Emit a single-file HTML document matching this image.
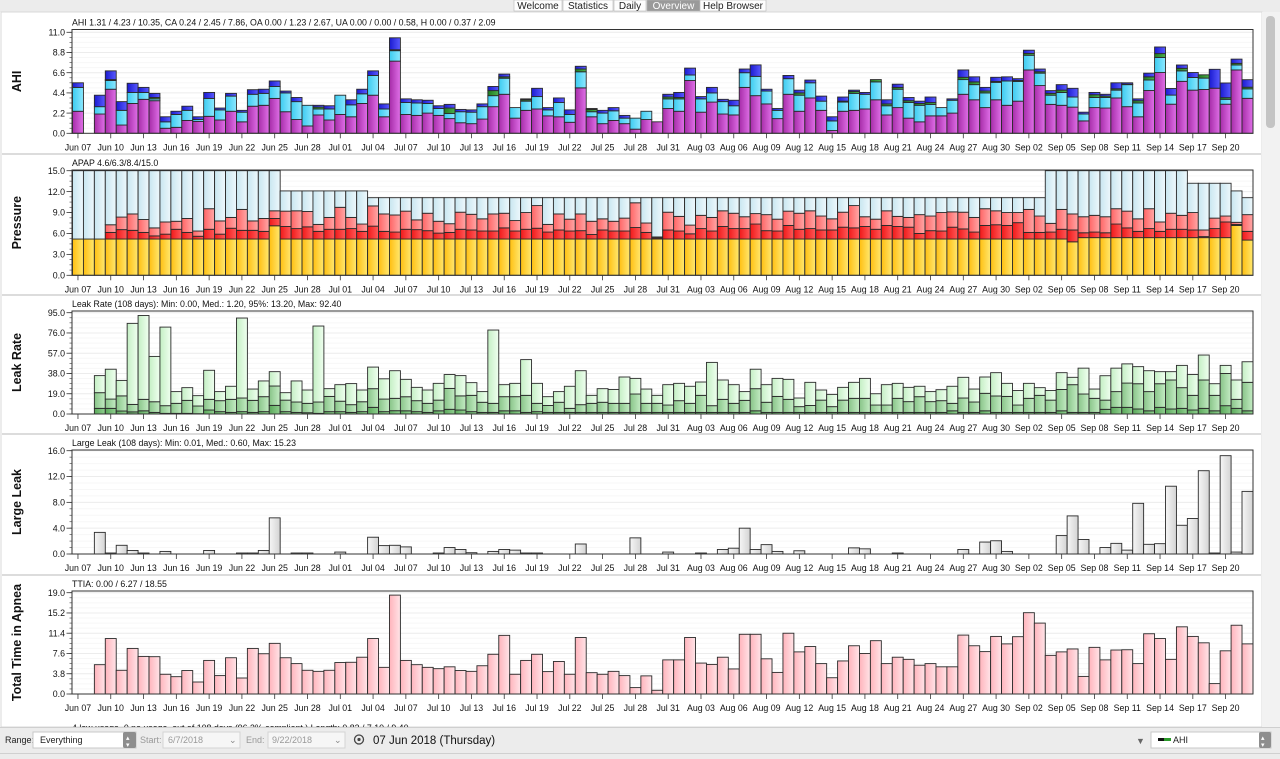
<!DOCTYPE html>
<html><head><meta charset="utf-8">
<style>
html,body{margin:0;padding:0;background:#fff;width:1280px;height:759px;overflow:hidden;font-family:"Liberation Sans",sans-serif}
#root{position:relative;width:1280px;height:759px}
svg text{font-family:"Liberation Sans",sans-serif}
</style></head>
<body>
<div id="root">
<svg id="chart" width="1280" height="759" viewBox="0 0 1280 759" xmlns="http://www.w3.org/2000/svg">
<defs>
<linearGradient id="gCA" x1="0" x2="1"><stop offset="0" stop-color="#a62ca8"/><stop offset="1" stop-color="#e070e8"/></linearGradient>
<linearGradient id="gOA" x1="0" x2="1"><stop offset="0" stop-color="#3ccbf0"/><stop offset="1" stop-color="#8ce8ff"/></linearGradient>
<linearGradient id="gUA" x1="0" x2="1"><stop offset="0" stop-color="#1f7a1f"/><stop offset="1" stop-color="#4cb04c"/></linearGradient>
<linearGradient id="gH" x1="0" x2="1"><stop offset="0" stop-color="#1a1ad0"/><stop offset="1" stop-color="#5a5aff"/></linearGradient>
<linearGradient id="gMin" x1="0" x2="1"><stop offset="0" stop-color="#ffbf10"/><stop offset="1" stop-color="#ffe870"/></linearGradient>
<linearGradient id="gMed" x1="0" x2="1"><stop offset="0" stop-color="#f01818"/><stop offset="1" stop-color="#ff5a5a"/></linearGradient>
<linearGradient id="gP95" x1="0" x2="1"><stop offset="0" stop-color="#ff6464"/><stop offset="1" stop-color="#ffa8a8"/></linearGradient>
<linearGradient id="gMax" x1="0" x2="1"><stop offset="0" stop-color="#c8e6f0"/><stop offset="1" stop-color="#eef8fc"/></linearGradient>
<linearGradient id="gL1" x1="0" x2="1"><stop offset="0" stop-color="#5aa85a"/><stop offset="1" stop-color="#90d090"/></linearGradient>
<linearGradient id="gL2" x1="0" x2="1"><stop offset="0" stop-color="#88c488"/><stop offset="1" stop-color="#c4ecc4"/></linearGradient>
<linearGradient id="gL3" x1="0" x2="1"><stop offset="0" stop-color="#c4efc4"/><stop offset="1" stop-color="#f0fff0"/></linearGradient>
<linearGradient id="gLL" x1="0" x2="1"><stop offset="0" stop-color="#f6f6f6"/><stop offset="1" stop-color="#d4d4d4"/></linearGradient>
<linearGradient id="gTT" x1="0" x2="1"><stop offset="0" stop-color="#ffb4bc"/><stop offset="1" stop-color="#ffe4e8"/></linearGradient>
</defs>
</svg>
</div>
<script>
const ca = [2.4,0,2.1,4.8,0.9,3.25,3.7,3.55,0.55,0.65,
1.4,1.3,1.85,1.45,2.4,1.25,2.95,3.05,3.8,2.35,
1.5,0.8,2.0,1.45,2.05,1.8,3.25,4.15,1.8,7.86,
2.05,1.95,2.2,1.95,1.6,1.15,1.05,1.55,2.9,4.25,
1.65,2.5,2.65,1.9,1.8,1.2,4.95,1.8,1.05,1.4,
1.05,0.45,1.5,1.25,2.7,2.4,5.75,2.3,3.4,2.1,
2.0,5.0,4.1,3.2,1.6,4.25,2.4,3.85,2.5,0.3,
2.4,2.5,2.65,3.65,2.0,2.8,1.65,1.25,1.9,1.9,
2.2,4.25,3.65,2.8,3.65,3.05,3.5,6.9,5.2,3.15,
3.05,2.85,1.35,2.8,2.75,3.85,2.9,1.8,4.66,6.62,
3.17,5.66,4.7,4.77,4.91,3.17,6.9,3.81];
const oa = [2.6,0,0.8,0.95,1.6,1.2,0.75,0.2,0.7,1.4,
1.1,0.2,1.95,1.1,1.65,1.05,1.3,1.3,1.3,2.05,
1.95,2.25,0.65,1.2,2.1,1.3,1.05,2.15,0.85,1.14,
1.3,1.35,1.05,0.75,0.55,1.2,1.25,1.35,1.2,1.75,
1.15,1.0,1.35,0.65,1.55,0.85,1.75,0.55,1.15,1.05,
0.6,1.2,0.9,0,1.05,1.35,0.6,1.45,1.0,1.35,
1.0,1.6,2.1,1.4,0.9,1.7,1.75,1.65,1.0,1.05,
1.0,1.85,1.6,1.95,1.0,2.0,1.7,1.8,1.25,0.9,
1.4,1.6,1.65,1.6,1.9,2.65,2.15,1.6,1.35,1.0,
1.4,1.1,0.75,1.1,1.15,0.85,2.4,1.5,1.14,1.64,
0.99,1.14,1.38,1.24,0,0.53,0.54,1.03];
const ua = [0,0,0,0.1,0,0,0,0.15,0,0,
0,0,0,0,0,0,0,0,0,0,
0,0,0.2,0,0,0,0,0,0,0.1,
0,0,0,0,0.6,0,0,0,0.55,0.15,
0,0.15,0,0,0,0,0.3,0.25,0,0,
0,0,0,0,0.2,0.15,0,0,0,0,
0,0,0,0,0,0,0.25,0,0,0,
0.1,0.2,0,0.25,0.2,0.2,0.2,0.2,0.2,0,
0,0.25,0.3,0.2,0.1,0,0.1,0.2,0.15,0.2,
0.25,0,0,0.3,0.15,0.15,0.05,0.25,0.35,0.42,
0,0.28,0,0.36,0,0.18,0.18,0.18];
const hyp = [0.5,0,1.25,0.95,0.95,1.0,0.55,0.45,0.55,0.35,
0.45,0.3,0.65,0.2,0.3,0.2,0.5,0.45,0.6,0.2,
0.45,0,0.2,0.35,0,0.55,0.5,0.5,0.55,1.3,
0.4,0.35,0.35,0.3,0.4,0.25,0.25,0.3,0.45,0.3,
0,0.1,0.9,0.25,0.5,0.5,0.3,0.1,0.3,0.35,
0.3,0,0,0,0.3,0.55,0.75,0.25,0.6,0.25,
0.6,0.4,1.25,0.2,0.2,0.35,0.3,0.3,0.55,0.45,
0.45,0.15,0.2,0,0.45,0.35,0.35,0.25,0.6,0,
0.15,0.8,0.55,0.4,0.45,0.45,0.2,0.35,0.3,0.3,
0.6,0.95,0.2,0.25,0.2,0.65,0.15,0.2,0.4,0.72,
0.72,0.36,0.54,0,2.06,1.6,0.46,0.82];
const pMin = [5.2,5.2,5.2,5.2,5.2,5.2,5.2,5.2,5.2,5.2,
5.2,5.2,5.2,5.2,5.2,5.2,5.2,5.2,7.1,5.2,
5.2,5.2,5.2,5.2,5.2,5.2,5.2,5.2,5.2,5.2,
5.2,5.2,5.2,5.2,5.2,5.2,5.2,5.2,5.2,5.2,
5.2,5.2,5.2,5.2,5.2,5.2,5.2,5.2,5.2,5.2,
5.2,5.2,5.2,5.2,5.2,5.2,5.2,5.2,5.2,5.2,
5.2,5.2,5.2,5.2,5.2,5.2,5.2,5.2,5.2,5.2,
5.2,5.2,5.2,5.2,5.2,5.2,5.2,5.2,5.2,5.2,
5.2,5.2,5.2,5.2,5.2,5.2,5.2,5.2,5.2,5.2,
5.2,4.8,5.4,5.4,5.4,5.4,5.4,5.4,5.4,5.4,
5.4,5.4,5.4,5.4,5.4,5.4,7.15,5.05];
const pMed = [5.2,5.2,5.2,6.15,6.55,6.45,6.15,5.65,5.9,6.6,
6.15,5.6,6.6,5.9,6.75,6.45,6.45,6.3,8.15,7.0,
6.7,6.95,6.3,6.6,6.6,6.7,6.3,7.05,6.3,6.2,
6.6,6.55,6.4,6.05,6.15,6.6,6.5,6.35,6.35,6.8,
6.35,6.6,6.75,6.2,6.5,6.35,6.4,5.85,6.5,6.35,
6.35,6.85,6.15,5.35,6.5,6.35,5.95,6.7,6.35,7.0,
6.7,6.7,7.35,6.4,6.35,7.15,6.6,6.7,6.5,6.5,
6.9,6.8,7.0,6.6,7.15,7.0,6.9,6.0,6.4,6.35,
6.9,6.65,6.2,7.15,7.25,7.15,7.55,6.15,6.15,6.2,
6.6,6.5,6.1,6.2,6.1,7.35,6.8,6.3,6.7,6.3,
6.6,6.6,6.5,5.55,6.7,7.65,7.3,6.3];
const pP95 = [5.2,5.2,5.2,7.25,8.35,8.8,8.0,6.8,7.65,7.75,
8.15,6.35,9.55,7.8,8.3,9.45,7.8,8.15,9.25,9.2,
9.25,9.15,7.3,8.3,9.75,8.3,7.35,9.95,8.8,8.65,
9.2,7.95,8.9,7.75,7.4,9.05,8.75,8.1,8.8,8.9,
7.85,9.0,10.0,7.3,8.8,8.05,8.8,7.75,8.1,7.75,
8.2,10.4,7.5,5.5,9.05,8.45,7.2,8.6,8.3,9.25,
8.9,8.4,8.85,8.7,8.05,9.2,8.9,9.25,8.5,8.1,
9.05,10.0,8.4,8.05,9.25,8.45,8.3,8.7,8.5,9.0,
9.1,9.05,8.3,9.55,9.25,9.0,9.0,9.45,8.5,7.45,
9.45,8.8,8.4,8.6,8.4,9.55,9.2,8.1,9.55,7.65,
8.9,8.6,9.0,6.5,8.2,8.5,7.6,8.7];
const pMax = [15,15,15,15,15,15,15,15,15,15,
15,15,15,15,15,15,15,15,15,12.1,
12.1,12.1,12.1,12.1,12.1,12.1,12.1,11.13,11.13,11.13,
11.13,11.13,11.13,11.13,11.13,11.13,11.13,11.13,11.13,11.13,
11.13,11.13,11.13,11.13,11.13,11.13,11.13,11.13,11.13,11.13,
11.13,11.13,11.13,11.13,11.13,11.13,11.13,11.13,11.13,11.13,
11.13,11.13,11.13,11.13,11.13,11.13,11.13,11.13,11.13,11.13,
11.13,11.13,11.13,11.13,11.13,11.13,11.13,11.13,11.13,11.13,
11.13,11.13,11.13,11.13,11.13,11.13,11.13,11.13,11.13,15,
15,15,15,15,15,15,15,15,15,15,
15,15,13.2,13.2,13.2,13.2,12.1,11.13];
const leakLow = [0,0,5.3,5.3,2.8,2,3,1.5,0.6,0.6,
0.6,0.3,3.75,2.2,1.5,2.2,1.5,2.2,8.1,2.2,
1.5,1.2,0.6,2.2,2.2,1.5,2.2,6.25,2.2,3.1,
3,2.2,1.5,3,4.4,3.75,2.2,1.5,1.5,3,
3,1.5,2.2,1.5,1.5,1.5,1.5,1.5,1.5,1.5,
1.5,1.5,1.5,1.5,1.5,1.5,1.5,1.5,1.5,1.5,
1.5,1.5,3,1.5,1.5,1.5,1.5,1.5,1.5,1.5,
1.5,1.5,1.5,1.5,1.5,1.5,1.5,1.5,1.5,1.5,
3,1.5,1.5,3,1.5,1.5,1.5,1.5,1.5,1.5,
3,1.5,1.5,1.5,4.4,6.25,6.25,4.7,3,6.25,
4.7,5.3,3.75,5.3,3,7.8,5.3,3];
const leakMed = [0,0,20,14,17,9,13.75,11.5,7.8,10,
12.8,7.5,13.75,12.5,13.75,15,12.8,16.25,26.25,13,
11.25,10,11.25,16.5,12,8.75,11.5,23.75,14,14.7,
16.2,12.5,10,13,24,17,17.5,11,10,16.25,
16.25,17.5,10,8,11,5.3,8.75,10,11,10,
10,18.75,10,10,8.4,12.5,10,17.5,7.8,13.75,
10,12.8,23.75,11,16.5,13.75,6.9,8,13,6.9,
13,14.7,14.7,8.4,8.4,14.7,11.6,16.25,11.6,12.5,
10,15,11.25,19.4,16.9,16.5,8.4,14.7,17.5,13,
23,27.5,18.75,14.7,13,21,29,28.4,21,28.4,
31.9,24.7,17.5,31.9,17.5,38,13.75,29.7];
const leakHigh = [0,0,36,42,31.5,85,92.4,54,81.5,21,
24.7,17.2,41,21,26,90,23.4,31,39.7,20,
31,22.5,82.5,23.75,27.5,28.5,22.5,44,33,40.6,
32.5,25,22.5,28.75,37,36,29.4,21,78.75,27.5,
28.75,51,28.75,16.25,21,26,40.6,17.5,23.75,23,
34.7,33.4,23.4,17.5,27.5,28.75,26,30,48.4,31.9,
27.5,21,42,27.5,33.4,32.5,15,29.7,22.5,18.4,
25,29.7,33.4,19,27.5,28.75,25,26,21,22.8,
26,34.4,23.4,34.7,38.75,28.75,22,28.75,24.7,22,
38.75,34.4,43,23.4,35.9,43,47,44.4,40.6,39.7,
39.7,45.6,37,55.3,28.4,45.6,31.9,49];
const largeLeak = [0,0,3.35,0.1,1.35,0.55,0.1,0,0.4,0,
0,0,0.55,0,0,0.1,0.1,0.55,5.6,0,
0.1,0.1,0,0,0.3,0,0,2.6,1.3,1.35,
1.1,0,0,0.1,1.0,0.7,0.2,0,0.4,0.7,
0.6,0.1,0.1,0,0,0,1.55,0,0,0,
0,2.5,0,0,0.3,0,0,0.1,0,0.7,
0.9,4.0,0.7,1.45,0.4,0,0.5,0,0,0,
0,0.95,0.8,0,0,0.1,0,0,0,0,
0,0.7,0,1.85,2.05,0.4,0,0,0,0,
2.85,5.9,2.25,0,1.0,1.65,0.6,7.85,1.5,1.6,
10.5,4.45,5.5,12.9,0.1,15.23,0.3,9.7];
const ttia = [0,0,5.5,10.4,4.45,8.55,7.05,7.0,3.7,3.25,
4.4,2.25,6.3,3.45,6.8,3.0,8.55,7.55,9.5,6.8,
5.7,4.45,4.25,4.45,5.9,5.95,6.9,10.4,5.0,18.55,
6.3,5.5,5.0,4.75,5.1,4.4,4.25,5.3,7.45,11.0,
3.7,6.3,7.45,4.2,6.1,3.7,10.6,4.0,3.7,4.25,
3.45,1.2,3.4,0.7,6.4,6.4,10.6,5.8,5.55,6.9,
4.7,11.2,11.2,6.6,4.05,11.4,7.9,8.9,5.7,3.05,
6.2,9.05,7.6,10.0,5.7,6.9,6.5,5.4,5.7,5.1,
5.1,11.05,9.05,7.95,10.8,9.4,10.75,15.25,13.3,7.25,
7.9,8.45,3.3,8.75,6.4,8.25,8.3,5.7,11.3,10.4,
6.5,12.6,10.8,9.6,1.95,8.1,12.9,9.4];
const ahiTicks = ["0.0","2.2","4.4","6.6","8.8","11.0"];
const pressureTicks = ["0.0","3.0","6.0","9.0","12.0","15.0"];
const leakTicks = ["0.0","19.0","38.0","57.0","76.0","95.0"];
const largeTicks = ["0.0","4.0","8.0","12.0","16.0"];
const ttiaTicks = ["0.0","3.8","7.6","11.4","15.2","19.0"];
const monthNames = ["Jun","Jul","Aug","Sep"];
const monthLens = [30,31,31,30];

const NS = "http://www.w3.org/2000/svg";
const svg = document.getElementById('chart');
function mk(tag, attrs, parent){
  const e = document.createElementNS(NS, tag);
  for (const k in attrs) e.setAttribute(k, attrs[k]);
  (parent||svg).appendChild(e); return e;
}
const N = ca.length;
const X0 = 72.5, DW = 10.93, XR = 1253;
const FS = 8.8;
function xL(i){ return X0 + i*DW; }
function dayLabel(i){
  let m=0, d=7+i;
  while (d>monthLens[m]) { d-=monthLens[m]; m++; }
  return monthNames[m]+" "+(d<10?"0"+d:d);
}

const tabBar = mk('rect',{x:0,y:0,width:1280,height:12,fill:'#ececec'});


const tabs = [["Welcome",514,48],["Statistics",563,50],["Daily",614,32],["Overview",647,53],["Help Browser",700,66]];
tabs.forEach(t=>{
  const g = mk('g',{});
  
  
  const sel = t[0]==="Overview";
  mk('rect',{x:t[1],y:0,width:t[2],height:11,fill:sel?'#9a9a9a':'#fdfdfd',stroke:'#b8b8b8','stroke-width':0.6},g);
  const tx = mk('text',{x:t[1]+t[2]/2,y:9,'text-anchor':'middle','font-size':10,fill:sel?'#fff':'#222'},g);
  tx.textContent=t[0];
});
const contentBg = mk('rect',{x:1,y:12,width:1261,height:715,fill:'#fff',stroke:'#d8d8d8','stroke-width':1});


const sb = mk('rect',{x:1262,y:12,width:18,height:715,fill:'#f2f2f2'});


const thumb = mk('rect',{x:1266,y:16,width:9,height:112,rx:4,fill:'#c4c4c4'});



const panels = [
 {name:'ahi', title:"AHI 1.31 / 4.23 / 10.35, CA 0.24 / 2.45 / 7.86, OA 0.00 / 1.23 / 2.67, UA 0.00 / 0.00 / 0.58, H 0.00 / 0.37 / 2.09", ylab:"AHI", top:32.3, frameTop:29.5, bot:133.3, max:11, ticks:ahiTicks},
 {name:'pressure', title:"APAP 4.6/6.3/8.4/15.0", ylab:"Pressure", top:170.7, frameTop:170, bot:275.3, max:15, ticks:pressureTicks},
 {name:'leak-rate', title:"Leak Rate (108 days):  Min: 0.00, Med.: 1.20, 95%: 13.20, Max: 92.40", ylab:"Leak Rate", top:312.7, frameTop:311, bot:414, max:95, ticks:leakTicks},
 {name:'large-leak', title:"Large Leak (108 days):  Min: 0.01, Med.: 0.60, Max: 15.23", ylab:"Large Leak", top:450.7, frameTop:450, bot:554, max:16, ticks:largeTicks},
 {name:'ttia', title:"TTIA: 0.00 / 6.27 / 18.55", ylab:"Total Time in Apnea", top:592.7, frameTop:591, bot:694, max:19, ticks:ttiaTicks}
];

panels.forEach((p,pi)=>{
  const g = mk('g',{});
  
  
  p.g = g;
  p.y = v => p.bot - v/p.max*(p.bot-p.top);
  if (pi>0){ const sep = mk('rect',{x:2,y:p.frameTop-17,width:1259,height:2,fill:'#dcdcdc'},g);
    
     }
  const nt = p.ticks.length-1;
  for (let k=0;k<=nt*4;k++){
    const yy = p.bot - k/(nt*4)*(p.bot-p.top);
    if (k%4===0 && k>0){ mk('line',{x1:X0,x2:XR,y1:yy,y2:yy,stroke:'#ececec','stroke-width':1},g); }
    else if (k>0){ mk('line',{x1:X0,x2:XR,y1:yy,y2:yy,stroke:'#f7f7f7','stroke-width':1},g); }
    mk('line',{x1:69.5,x2:72,y1:yy,y2:yy,stroke:'#555','stroke-width':0.7},g);
  }
  p.ticks.forEach((t,k)=>{
    const yy = p.bot - k/nt*(p.bot-p.top);
    mk('line',{x1:66.5,x2:72,y1:yy,y2:yy,stroke:'#333','stroke-width':0.8},g);
    const tx = mk('text',{x:65,y:yy+3.2,'text-anchor':'end','font-size':FS,fill:'#111'},g);
    
    
    tx.textContent=t;
  });
  const tt = mk('text',{x:72,y:p.frameTop-4,'font-size':FS,fill:'#111'},g);
  
  
  tt.textContent = p.title;
  const cy = (p.frameTop+p.bot)/2;
  const yl = mk('text',{x:0,y:0,transform:`translate(21,${cy}) rotate(-90)`,'text-anchor':'middle','font-size':12.5,'font-weight':'bold',fill:'#111'},g);
  
  
  yl.textContent = p.ylab;
  for (let i=0;i<N;i+=3){
    const cx = xL(i)+DW/2;
    mk('line',{x1:cx,x2:cx,y1:p.bot,y2:p.bot+5,stroke:'#333','stroke-width':0.8},g);
    const tx = mk('text',{x:cx,y:p.bot+17,'text-anchor':'middle','font-size':FS,fill:'#111'},g);
    
    
    tx.textContent = dayLabel(i);
  }
});

function seg(g, i, y1, y2, fill){
  if (y1-y2 <= 0.05) return;
  return mk('rect',{x:xL(i),y:y2,width:DW,height:y1-y2,fill:fill,stroke:'#2a2a2a','stroke-width':0.9},g);
}
(function(){
  const p = panels[0];
  for (let i=0;i<N;i++){
    const g = mk('g',{},p.g);
    
    
    let acc=0;
    [[ca,'url(#gCA)'],[oa,'url(#gOA)'],[ua,'url(#gUA)'],[hyp,'url(#gH)']].forEach(s=>{
      const v=s[0][i]; if(v>0){ seg(g,i,p.y(acc),p.y(acc+v),s[1]); acc+=v; }
    });
  }
})();
(function(){
  const p = panels[1];
  for (let i=0;i<N;i++){
    const g = mk('g',{},p.g);
    
    
    seg(g,i,p.y(0),p.y(pMin[i]),'url(#gMin)');
    seg(g,i,p.y(pMin[i]),p.y(pMed[i]),'url(#gMed)');
    seg(g,i,p.y(pMed[i]),p.y(pP95[i]),'url(#gP95)');
    seg(g,i,p.y(pP95[i]),p.y(pMax[i]),'url(#gMax)');
  }
})();
(function(){
  const p = panels[2];
  for (let i=0;i<N;i++){
    if (leakHigh[i]<=0) continue;
    const g = mk('g',{},p.g);
    
    
    seg(g,i,p.y(0),p.y(leakLow[i]),'url(#gL1)');
    seg(g,i,p.y(leakLow[i]),p.y(leakMed[i]),'url(#gL2)');
    seg(g,i,p.y(leakMed[i]),p.y(leakHigh[i]),'url(#gL3)');
  }
})();
(function(){
  const p = panels[3];
  for (let i=0;i<N;i++){
    if (largeLeak[i]<=0) continue;
    const g = mk('g',{},p.g);
    
    
    const y2 = Math.min(p.y(largeLeak[i]), p.bot-1);
    mk('rect',{x:xL(i),y:y2,width:DW,height:p.bot-y2,fill:'url(#gLL)',stroke:'#2a2a2a','stroke-width':0.9},g);
  }
})();
(function(){
  const p = panels[4];
  for (let i=0;i<N;i++){
    if (ttia[i]<=0) continue;
    const g = mk('g',{},p.g);
    
    
    seg(g,i,p.y(0),p.y(ttia[i]),'url(#gTT)');
  }
})();
panels.forEach(p=>{
  const f = mk('rect',{x:X0-0.5,y:p.frameTop,width:XR-X0+0.5,height:p.bot-p.frameTop,fill:'none',stroke:'#333','stroke-width':1},p.g);
  
  
});
const sumLine = mk('text',{x:72,y:731,'font-size':FS,fill:'#111'});


sumLine.textContent = "4 low usage, 0 no usage, out of 108 days (96.3% compliant.) Length: 0.83 / 7.10 / 9.40";

const tb = mk('g',{});


mk('rect',{x:0,y:727,width:1280,height:32,fill:'#ececec'},tb);
mk('line',{x1:0,x2:1280,y1:727.5,y2:727.5,stroke:'#cfcfcf'},tb);
mk('line',{x1:0,x2:1280,y1:753.5,y2:753.5,stroke:'#d0d0d0'},tb);
function lbl(x,y,t,size,col,name){ const e=mk('text',{x:x,y:y,'font-size':size,fill:col},tb);
  
  
  e.textContent=t; return e; }
lbl(5,743,"Range:",9,'#222','range-label');
const rs = mk('g',{},tb);


mk('rect',{x:33,y:732,width:103,height:16,fill:'#fff',stroke:'#c8c8c8'},rs);
mk('rect',{x:123,y:732,width:13,height:16,fill:'#8e8e8e',rx:2},rs);
mk('text',{x:126,y:740,'font-size':7,fill:'#fff'},rs).textContent="▴";
mk('text',{x:126,y:747,'font-size':7,fill:'#fff'},rs).textContent="▾";
mk('text',{x:40,y:743,'font-size':9,fill:'#222'},rs).textContent="Everything";
lbl(140,743,"Start:",9,'#999','start-label');
const sd = mk('g',{},tb);


mk('rect',{x:163,y:732,width:77,height:16,fill:'#f6f6f6',stroke:'#d4d4d4'},sd);
mk('text',{x:168,y:743,'font-size':9,fill:'#999'},sd).textContent="6/7/2018";
mk('text',{x:229,y:743,'font-size':9,fill:'#888'},sd).textContent="⌄";
lbl(246,743,"End:",9,'#999','end-label');
const ed = mk('g',{},tb);


mk('rect',{x:268,y:732,width:77,height:16,fill:'#f6f6f6',stroke:'#d4d4d4'},ed);
mk('text',{x:272,y:743,'font-size':9,fill:'#999'},ed).textContent="9/22/2018";
mk('text',{x:334,y:743,'font-size':9,fill:'#888'},ed).textContent="⌄";
const rf = mk('g',{},tb);


mk('circle',{cx:359,cy:739.5,r:4.5,fill:'none',stroke:'#444','stroke-width':1.3},rf);
mk('circle',{cx:359,cy:739.5,r:1.6,fill:'#444'},rf);
lbl(373,744,"07 Jun 2018 (Thursday)",11.5,'#111','selected-date');
lbl(1136,744,"▼",9,'#666','graph-dropdown-arrow');
const gs = mk('g',{},tb);


mk('rect',{x:1151,y:732,width:120,height:16,fill:'#fff',stroke:'#c8c8c8'},gs);
mk('rect',{x:1259,y:732,width:12,height:16,fill:'#8e8e8e',rx:2},gs);
mk('text',{x:1261,y:740,'font-size':7,fill:'#fff'},gs).textContent="▴";
mk('text',{x:1261,y:747,'font-size':7,fill:'#fff'},gs).textContent="▾";
mk('rect',{x:1158,y:738,width:6,height:3,fill:'#111'},gs);
mk('rect',{x:1164,y:738,width:7,height:3,fill:'#2a9a2a'},gs);
mk('text',{x:1173,y:743,'font-size':9,fill:'#222'},gs).textContent="AHI";
</script>
</body></html>
